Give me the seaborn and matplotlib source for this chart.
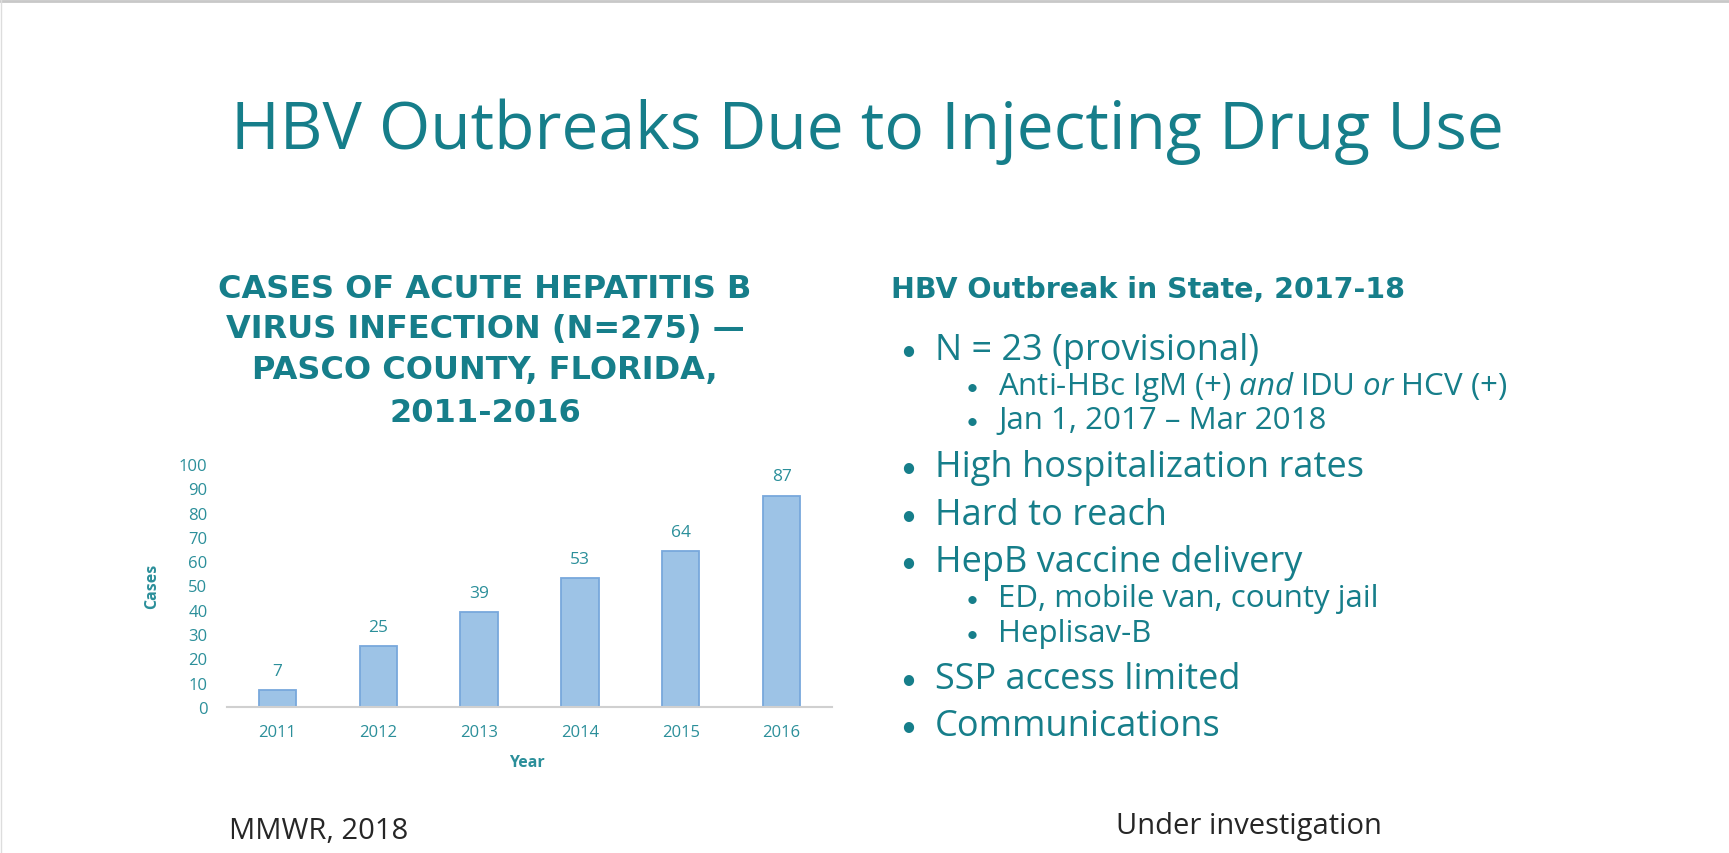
import pandas as pd
import seaborn as sns
import matplotlib.pyplot as plt

years = ["2011", "2012", "2013", "2014", "2015", "2016"]
cases = [7, 25, 39, 53, 64, 87]
y_ticks = [0, 10, 20, 30, 40, 50, 60, 70, 80, 90, 100]

slide_title = "HBV Outbreaks Due to Injecting Drug Use"
chart_title = ["CASES OF ACUTE HEPATITIS B", "VIRUS INFECTION (N=275) \u2014",
               "PASCO COUNTY, FLORIDA,", "2011-2016"]
right_head = "HBV Outbreak in State, 2017-18"
bullets = [
    (1, "N = 23 (provisional)"),
    (2, "Anti-HBc IgM (+) $\\it{and}$ IDU $\\it{or}$ HCV (+)"),
    (2, "Jan 1, 2017 \u2013 Mar 2018"),
    (1, "High hospitalization rates"),
    (1, "Hard to reach"),
    (1, "HepB vaccine delivery"),
    (2, "ED, mobile van, county jail"),
    (2, "Heplisav-B"),
    (1, "SSP access limited"),
    (1, "Communications"),
]
bullet_base = [360, 395, 429, 477, 525, 572, 607, 642, 689, 736]

W, H = 1729, 854
teal = "#167e8a"
light_teal = "#2b8f9a"
body = ["Open Sans", "DejaVu Sans"]
heavy = ["DejaVu Sans"]

sns.set_style("white")
plt.rcParams["font.family"] = ["Open Sans", "DejaVu Sans"]
plt.rcParams["mathtext.fontset"] = "custom"
plt.rcParams["mathtext.it"] = "Open Sans:italic"
plt.rcParams["mathtext.rm"] = "Open Sans"


def px(x, y):
    return x / W, 1 - y / H


fig = plt.figure(figsize=(W / 100, H / 100), dpi=100)

# slide frame (faint top / left edge)
fig.add_artist(plt.Line2D([0, 1], [1 - 1.5 / H] * 2, color="#c8c8c8", lw=2))
fig.add_artist(plt.Line2D([0.5 / W] * 2, [0, 1], color="#dddddd", lw=1))

fig.text(*px(867, 149), slide_title, ha="center", va="baseline",
         fontsize=47.5, color=teal, family=body)

# chart title
for line, yb in zip(chart_title, [298, 338, 379, 422]):
    fig.text(*px(485, yb), line, ha="center", va="baseline", fontsize=23,
             fontweight="bold", color=teal, family=heavy)

# bar chart
df = pd.DataFrame({"Year": years, "Cases": cases})
ax = fig.add_axes([227 / W, 1 - 708 / H, 605 / W, 243 / H])
sns.barplot(data=df, x="Year", y="Cases", ax=ax, color="#9dc3e6",
            edgecolor="#78a8dc", linewidth=1.3, width=0.37, saturation=1)
ax.bar_label(ax.containers[0], padding=8, fontsize=12.5, color=light_teal)
ax.set_xlim(-0.5, 5.5)
ax.set_ylim(0, 100)
ax.set_yticks(y_ticks)
ax.tick_params(axis="both", length=0, labelsize=12, labelcolor=light_teal)
ax.tick_params(axis="y", pad=14)
ax.tick_params(axis="x", pad=12)
for s in ["top", "right", "left"]:
    ax.spines[s].set_visible(False)
ax.spines["bottom"].set_color("#d0d0d0")
ax.spines["bottom"].set_linewidth(1.5)
ax.set_xlabel("Year", fontsize=11.5, fontweight="bold", color=light_teal)
ax.set_ylabel("Cases", fontsize=11.5, fontweight="bold", color=light_teal)
ax.xaxis.set_label_coords(0.495, -0.195)
ax.yaxis.set_label_coords(-0.11, 0.5)

# right text block
fig.text(*px(891, 298), right_head, ha="left", va="baseline", fontsize=20.5,
         fontweight="bold", color=teal, family=heavy)
for (lvl, txt), yb in zip(bullets, bullet_base):
    if lvl == 1:
        fig.text(*px(900, yb), "\u2022", ha="left", va="baseline", fontsize=20,
                 color=teal, family=["Lato"])
        fig.text(*px(935, yb), txt, ha="left", va="baseline", fontsize=26,
                 color=teal, family=body)
    else:
        fig.text(*px(966, yb), "\u2022", ha="left", va="baseline", fontsize=16,
                 color=teal, family=["Lato"])
        fig.text(*px(998, yb), txt, ha="left", va="baseline", fontsize=22.5,
                 color=teal, family=body)

fig.text(*px(229, 839), "MMWR, 2018", ha="left", va="baseline", fontsize=21,
         color="#262626", family=body)
fig.text(*px(1116, 834), "Under investigation", ha="left", va="baseline", fontsize=21,
         color="#262626", family=body)

fig.savefig("out.png", dpi=100)
